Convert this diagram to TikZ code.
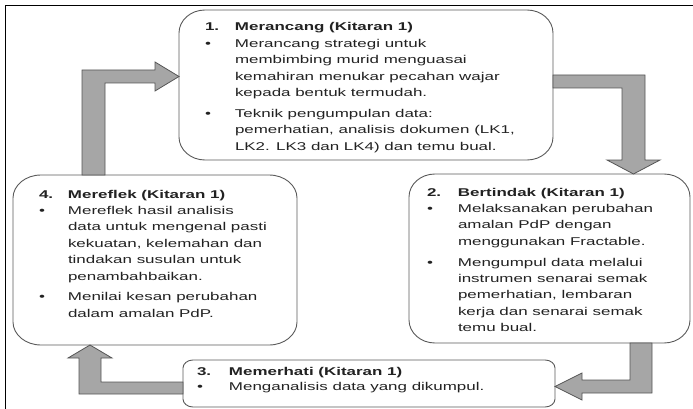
\documentclass[tikz,border=0pt]{standalone}
\usepackage{fontspec}
\setmainfont{Liberation Sans}[FakeStretch=1.5]
\usetikzlibrary{calc}
\definecolor{boxline}{HTML}{5A5A5A}
\definecolor{arrowfill}{HTML}{A6A6A6}
\definecolor{arrowline}{HTML}{555555}
\definecolor{textcol}{HTML}{222222}
\newcommand\lab[2]{\makebox[#1][l]{#2}}
\newcommand\ebox[3]{%
 \draw[eboxstyle] ($(#1.north west)+(#2,0)$) -- ($(#1.north east)+(-#2,0)$)
 .. controls +(0.5523*#2,0) and +(0,-0.5523*#3) .. ($(#1.north east)+(0,#3)$)
 -- ($(#1.south east)+(0,-#3)$)
 .. controls +(0,0.5523*#3) and +(0.5523*#2,0) .. ($(#1.south east)+(-#2,0)$)
 -- ($(#1.south west)+(#2,0)$)
 .. controls +(-0.5523*#2,0) and +(0,0.5523*#3) .. ($(#1.south west)+(0,-#3)$)
 -- ($(#1.north west)+(0,#3)$)
 .. controls +(0,-0.5523*#3) and +(-0.5523*#2,0) .. ($(#1.north west)+(#2,0)$) -- cycle;}
\begin{document}
\begin{tikzpicture}[x=1pt,y=-1pt,
  shapebox/.style={rectangle, inner sep=0pt, outer sep=0pt},
  eboxstyle/.style={draw=boxline, fill=white, line width=0.9pt},
  barrow/.style={fill=arrowfill, draw=arrowline, line width=0.8pt, line join=miter},
  txt/.style={anchor=base west, inner sep=0pt, outer sep=0pt, text=textcol,
    font=\fontsize{11.3pt}{16.4pt}\selectfont}]
\useasboundingbox (0,0) rectangle (693,409);
\clip (0,0) rectangle (693,409);
\draw[line width=1.6pt] (5.5,430) -- (5.5,5.5) -- (720,5.5);

\node[shapebox, minimum width=374pt, minimum height=150pt] (b1) at (366,85) {};
\node[shapebox, minimum width=281pt, minimum height=169pt] (b2) at (549.5,258.5) {};
\node[shapebox, minimum width=372pt, minimum height=47pt] (b3) at (369,383.5) {};
\node[shapebox, minimum width=284pt, minimum height=170pt] (b4) at (155,260) {};

\ebox{b1}{26}{23}
\ebox{b2}{26}{23}
\ebox{b3}{10}{8}
\ebox{b4}{28}{23}

\draw[barrow] (82,0 |- b4.north) -- (82,70) -- (155,70) -- (155,62) -- (b1.west |- 0,76.5)
  -- (155,91) -- (155,83) -- (105,83) -- (105,0 |- b4.north) -- cycle;
\draw[barrow] (b1.east |- 0,75) -- (645,75) -- (645,160) -- (660,160) -- (633.5,0 |- b2.north)
  -- (607,160) -- (622,160) -- (622,88) -- (b1.east |- 0,88) -- cycle;
\draw[barrow] (652,0 |- b2.south) -- (652,393) -- (582,393) -- (582,400) -- (b3.east |- 0,386.5)
  -- (582,373) -- (582,380) -- (630,380) -- (630,0 |- b2.south) -- cycle;
\draw[barrow] (b3.west |- 0,382) -- (101,382) -- (101,358) -- (112,358) -- (90,0 |- b4.south)
  -- (68,358) -- (79,358) -- (79,394) -- (b3.west |- 0,394) -- cycle;

\node[txt] (t1) at (205,31) {\begin{tabular}[t]{@{}l@{}l@{}}
\lab{30pt}{\textbf{1.}} & \textbf{Merancang (Kitaran 1)}\\
\lab{30pt}{\textbullet} & Merancang strategi untuk\\
 & membimbing murid menguasai\\
 & kemahiran menukar pecahan wajar\\
 & kepada bentuk termudah.\\[4.5pt]
\lab{30pt}{\textbullet} & Teknik pengumpulan data:\\
 & pemerhatian, analisis dokumen (LK1,\\
 & LK2. LK3 dan LK4) dan temu bual.
\end{tabular}};

\node[txt] (t2) at (427,196) {\begin{tabular}[t]{@{}l@{}l@{}}
\lab{31pt}{\textbf{2.}} & \textbf{Bertindak (Kitaran 1)}\\
\lab{31pt}{\textbullet} & Melaksanakan perubahan\\
 & amalan PdP dengan\\
 & menggunakan Fractable.\\[4.5pt]
\lab{31pt}{\textbullet} & Mengumpul data melalui\\
 & instrumen senarai semak\\
 & pemerhatian, lembaran\\
 & kerja dan senarai semak\\
 & temu bual.
\end{tabular}};

\node[txt, font=\fontsize{11.3pt}{15pt}\selectfont] (t3) at (197,375) {\begin{tabular}[t]{@{}l@{}l@{}}
\lab{32pt}{\textbf{3.}} & \textbf{Memerhati (Kitaran 1)}\\
\lab{32pt}{\textbullet} & Menganalisis data yang dikumpul.
\end{tabular}};

\node[txt] (t4) at (39,198) {\begin{tabular}[t]{@{}l@{}l@{}}
\lab{29pt}{\textbf{4.}} & \textbf{Mereflek (Kitaran 1)}\\
\lab{29pt}{\textbullet} & Mereflek hasil analisis\\
 & data untuk mengenal pasti\\
 & kekuatan, kelemahan dan\\
 & tindakan susulan untuk\\
 & penambahbaikan.\\[4.5pt]
\lab{29pt}{\textbullet} & Menilai kesan perubahan\\
 & dalam amalan PdP.
\end{tabular}};
\end{tikzpicture}
\end{document}
